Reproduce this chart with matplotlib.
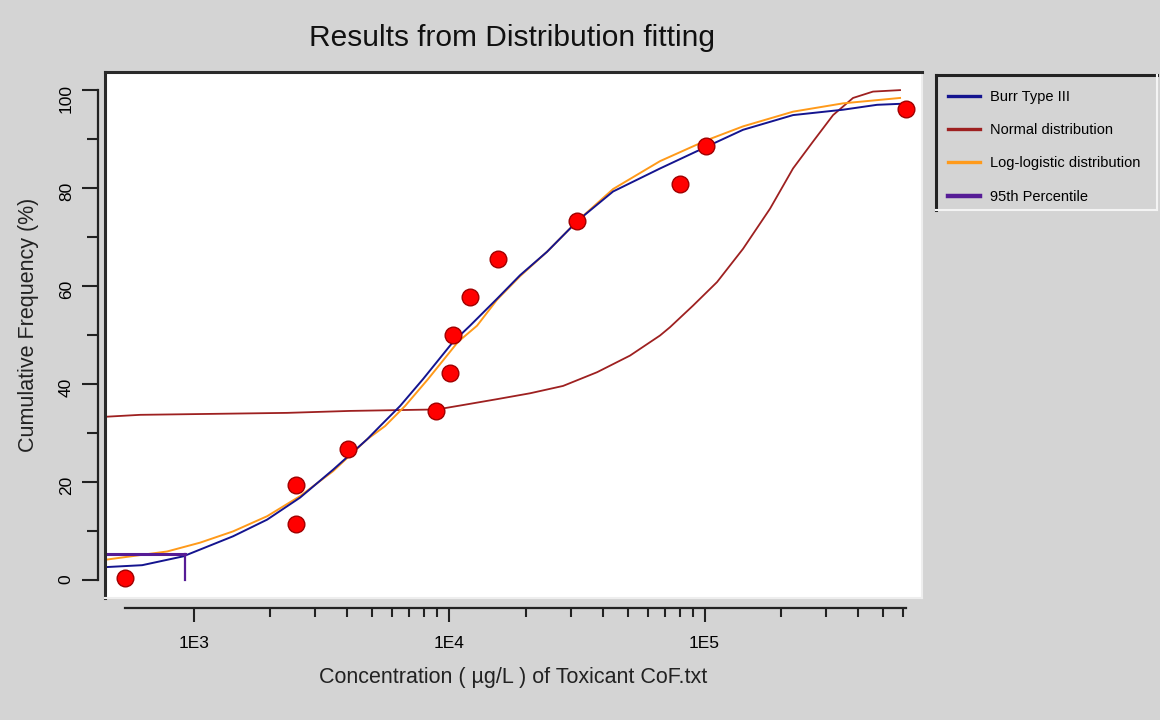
import matplotlib
matplotlib.use('Agg')
import matplotlib.pyplot as plt
from matplotlib.lines import Line2D
from matplotlib.patches import Rectangle
from matplotlib.ticker import NullFormatter

plt.rcParams['font.family'] = ['Liberation Sans', 'DejaVu Sans']

# observed toxicity data (ug/L) and plotting positions (%)
conc = [540, 2520, 2520, 4015, 8870, 10090, 10350, 12080, 15510, 31700, 80200, 101400, 614800]
cumfreq = [0.4, 11.5, 19.3, 26.8, 34.5, 42.2, 50.0, 57.8, 65.5, 73.2, 80.8, 88.5, 96.2]

# fitted curves
burr_x = [450, 629, 910, 1427, 1940, 2611, 3516, 4777, 5370, 6430, 7910, 10370, 12080,
          15410, 18960, 24190, 31980, 43850, 66960, 102300, 141500, 222000, 348500, 473300, 582500]
burr_y = [2.6, 3.0, 4.8, 8.9, 12.3, 16.8, 22.5, 28.7, 31.4, 35.5, 41.0, 48.6, 51.9,
          57.4, 62.2, 67.0, 73.4, 79.3, 84.0, 88.5, 91.9, 94.9, 96.0, 97.0, 97.2]

loglog_x = [450, 788, 1060, 1427, 1940, 2611, 3516, 4777, 5616, 6725, 8275, 10840, 12870,
            15410, 18960, 24190, 31980, 43850, 66960, 102300, 141500, 222000, 348500, 582500]
loglog_y = [4.1, 5.8, 7.6, 9.9, 13.0, 17.1, 22.2, 28.7, 31.4, 35.5, 41.0, 48.6, 51.9,
            57.2, 62.0, 67.0, 73.4, 79.8, 85.5, 89.8, 92.6, 95.6, 97.3, 98.4]

normal_x = [450, 618, 2323, 4098, 8975, 11340, 15410, 20750, 27940, 37960, 51100, 66960,
            73280, 90150, 111900, 141500, 180500, 222000, 265900, 318500, 381300, 456500, 582500]
normal_y = [33.3, 33.7, 34.1, 34.5, 34.8, 35.7, 36.9, 38.1, 39.6, 42.4, 45.8, 49.9,
            51.6, 56.0, 60.8, 67.6, 75.8, 84.0, 89.5, 94.9, 98.4, 99.7, 100.0]

# 95th percentile marker (HC5)
pct_x = [450, 926, 926]
pct_y = [5.3, 5.3, 0.0]

bg = '#d4d4d4'
c_burr = '#14148f'
c_norm = '#9e2020'
c_loglog = '#ff9a1a'
c_pct = '#561c96'

fig = plt.figure(figsize=(11.6, 7.2), dpi=100, facecolor=bg)
ax = fig.add_axes([105 / 1160, 1 - 598 / 720, 817 / 1160, 526 / 720])
ax.set_facecolor('white')

ax.plot(normal_x, normal_y, color=c_norm, lw=1.3)
ax.plot(loglog_x, loglog_y, color=c_loglog, lw=1.4)
ax.plot(burr_x, burr_y, color=c_burr, lw=1.4)
ax.plot(pct_x[:2], pct_y[:2], color=c_pct, lw=2.2)
ax.plot(pct_x[1:], pct_y[1:], color=c_pct, lw=1.6)
ax.plot(conc, cumfreq, 'o', ms=12, mfc='#ff0000', mec='#a00000', mew=1, zorder=5)

ax.set_xscale('log')
ax.set_xlim(450, 710000)
ax.set_ylim(-3.7, 103.7)

ax.set_xticks([1e3, 1e4, 1e5], ['1E3', '1E4', '1E5'])
minors = [2e3, 3e3, 4e3, 5e3, 6e3, 7e3, 8e3, 9e3,
          2e4, 3e4, 4e4, 5e4, 6e4, 7e4, 8e4, 9e4,
          2e5, 3e5, 4e5, 5e5, 6e5]
ax.set_xticks(minors, minor=True)
ax.xaxis.set_minor_formatter(NullFormatter())
ax.set_yticks([0, 20, 40, 60, 80, 100])
ax.set_yticks([10, 30, 50, 70, 90], minor=True)

ax.tick_params(axis='x', which='major', length=10, width=1.5, pad=10, labelsize=12.5, color='#222222')
ax.tick_params(axis='x', which='minor', length=6.5, width=1.5, color='#222222')
ax.tick_params(axis='y', which='major', length=11.5, width=1.5, pad=6, labelsize=12.5,
               labelrotation=90, color='#222222')
ax.tick_params(axis='y', which='minor', length=8, width=1.5, color='#222222')
plt.setp(ax.get_yticklabels(), va='center')

ax.spines['left'].set_position(('outward', 5))
ax.spines['left'].set_bounds(0, 100)
ax.spines['bottom'].set_position(('outward', 7))
ax.spines['bottom'].set_bounds(conc[0], conc[-1])
for s in ('left', 'bottom'):
    ax.spines[s].set_linewidth(1.6)
    ax.spines[s].set_color('#222222')
ax.spines['top'].set_color('#2a2a2a')
ax.spines['top'].set_linewidth(2.2)
ax.spines['right'].set_color('#eeeeee')
ax.spines['right'].set_linewidth(1.5)
ax.plot([0, 0], [0, 1], transform=ax.transAxes, color='#2a2a2a', lw=2.2, clip_on=False)
ax.plot([0, 1], [0, 0], transform=ax.transAxes, color='#eeeeee', lw=1.5, clip_on=False)

ax.set_xlabel('Concentration ( µg/L ) of Toxicant CoF.txt', fontsize=15.5, color='#222222')
ax.xaxis.set_label_coords(0.5, -0.152)
ax.xaxis.label.set_va('center')
ax.set_ylabel('Cumulative Frequency (%)', fontsize=15.5, color='#222222')
ax.yaxis.set_label_coords(-0.094, 0.52)
ax.yaxis.label.set_va('center')

fig.text(512 / 1160, 1 - 38 / 720, 'Results from Distribution fitting', ha='center', va='center',
         fontsize=21.5, color='#111111')

# legend box with sunken border
lx0, lx1 = 936 / 1160, 1157 / 1160
ly0, ly1 = 1 - 210 / 720, 1 - 75 / 720
fig.add_artist(Rectangle((lx0, ly0), lx1 - lx0, ly1 - ly0, transform=fig.transFigure,
                         facecolor=bg, edgecolor='none'))
fig.add_artist(Line2D([lx0, lx0], [ly0, ly1], transform=fig.transFigure, color='#222222', lw=2.2))
fig.add_artist(Line2D([lx0, lx1], [ly1, ly1], transform=fig.transFigure, color='#222222', lw=2.2))
fig.add_artist(Line2D([lx1, lx1], [ly0, ly1], transform=fig.transFigure, color='#f4f4f4', lw=1.5))
fig.add_artist(Line2D([lx0, lx1], [ly0, ly0], transform=fig.transFigure, color='#f4f4f4', lw=1.5))

handles = [Line2D([], [], color=c_burr, lw=2.4),
           Line2D([], [], color=c_norm, lw=2.4),
           Line2D([], [], color=c_loglog, lw=2.4),
           Line2D([], [], color=c_pct, lw=3.2)]
labels = ['Burr Type III', 'Normal distribution', 'Log-logistic distribution', '95th Percentile']
leg = fig.legend(handles, labels, loc='upper left', bbox_to_anchor=(948 / 1160, 1 - 90 / 720),
                 bbox_transform=fig.transFigure, frameon=False, fontsize=10.5, borderpad=0,
                 borderaxespad=0, handlelength=2.2, handletextpad=0.65, labelspacing=1.32)

fig.savefig('out.png', dpi=100, facecolor=bg)
